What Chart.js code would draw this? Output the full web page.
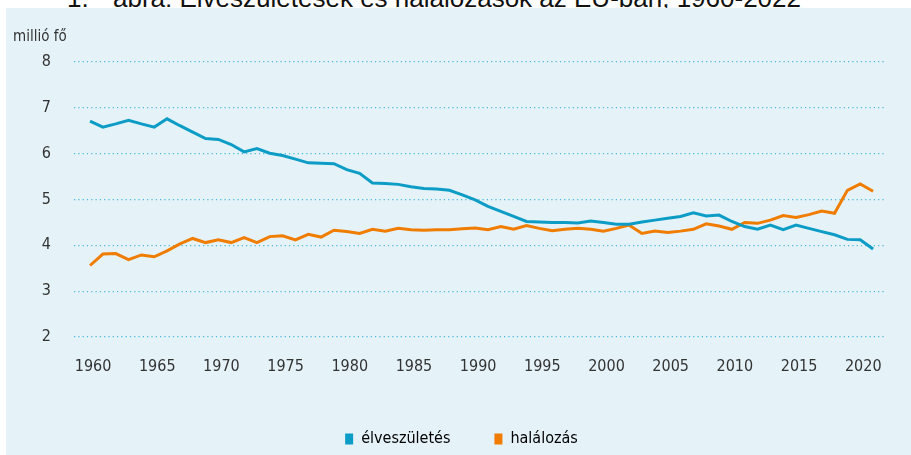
<!DOCTYPE html>
<html>
<head>
<meta charset="utf-8">
<script src="https://cdn.jsdelivr.net/npm/chart.js@4.4.1/dist/chart.umd.min.js"></script>
<style>
  html, body { margin: 0; padding: 0; background: #ffffff; width: 911px; height: 455px; overflow: hidden; }
  .title { position: absolute; top: -17px; font: 26px 'Liberation Sans', Arial, sans-serif; color: #111; white-space: pre; z-index: 0; }
  #panel { position: absolute; left: 6px; top: 8px; width: 905px; height: 447px; background: #E5F3F8; z-index: 1; }
  #unit { position: absolute; left: 13px; top: 27px; font: 15px 'Liberation Sans Narrow', 'DejaVu Sans Condensed', sans-serif; color: #333; z-index: 3; }
  #wrap { position: absolute; left: 0; top: 0; width: 911px; height: 457px; z-index: 2; }
</style>
</head>
<body>
<div class="title" style="left:67px">1.</div>
<div class="title" style="left:113px">ábra: Élveszületések és halálozások az EU-ban, 1960-2022</div>
<div id="panel"></div>
<div id="unit">millió fő</div>
<div id="wrap"><canvas id="c" width="911" height="457"></canvas></div>
<script>
const years = [1960,1961,1962,1963,1964,1965,1966,1967,1968,1969,
  1970,1971,1972,1973,1974,1975,1976,1977,1978,1979,
  1980,1981,1982,1983,1984,1985,1986,1987,1988,1989,
  1990,1991,1992,1993,1994,1995,1996,1997,1998,1999,
  2000,2001,2002,2003,2004,2005,2006,2007,2008,2009,
  2010,2011,2012,2013,2014,2015,2016,2017,2018,2019,
  2020,2021];
const births = [6.71,6.58,6.65,6.73,6.65,6.58,6.76,6.61,6.47,6.33,
  6.31,6.20,6.04,6.11,6.01,5.96,5.88,5.80,5.79,5.78,
  5.65,5.57,5.36,5.35,5.33,5.28,5.24,5.23,5.20,5.10,
  4.99,4.85,4.74,4.63,4.52,4.51,4.50,4.50,4.49,4.53,
  4.50,4.46,4.46,4.51,4.55,4.59,4.63,4.71,4.64,4.66,
  4.52,4.41,4.35,4.44,4.34,4.44,4.37,4.30,4.23,4.13,
  4.12,3.92];
const deaths = [3.56,3.81,3.82,3.69,3.79,3.75,3.88,4.03,4.15,4.06,
  4.12,4.06,4.17,4.06,4.19,4.21,4.12,4.24,4.18,4.33,
  4.30,4.26,4.35,4.31,4.37,4.34,4.33,4.34,4.34,4.36,
  4.38,4.34,4.41,4.35,4.43,4.37,4.32,4.35,4.37,4.35,
  4.31,4.37,4.44,4.26,4.31,4.28,4.31,4.35,4.47,4.42,
  4.35,4.50,4.48,4.55,4.65,4.61,4.67,4.75,4.70,5.20,
  5.34,5.18];
const xTickYears = [1960,1965,1970,1975,1980,1985,1990,1995,2000,2005,2010,2015,2020];
const yTicks = [2,3,4,5,6,7,8];
const seriesNames = ['élveszületés','halálozás'];

const FONT = "'Liberation Sans Narrow', 'DejaVu Sans Condensed', sans-serif";
const BLUE = '#0C9CC6';
const ORANGE = '#F07C00';

new Chart(document.getElementById('c'), {
  type: 'line',
  data: {
    datasets: [
      { label: seriesNames[0], data: years.map((y, i) => ({x: y, y: births[i]})),
        borderColor: BLUE, backgroundColor: BLUE, borderWidth: 3, pointRadius: 0, tension: 0 },
      { label: seriesNames[1], data: years.map((y, i) => ({x: y, y: deaths[i]})),
        borderColor: ORANGE, backgroundColor: ORANGE, borderWidth: 3, pointRadius: 0, tension: 0 }
    ]
  },
  options: {
    responsive: false,
    animation: false,
    layout: { padding: { left: 38, right: 26, top: 62, bottom: 0 } },
    plugins: {
      tooltip: { enabled: false },
      legend: {
        position: 'bottom',
        labels: {
          boxWidth: 8, boxHeight: 11, padding: 44,
          color: '#333', font: { family: FONT, size: 16 },
          generateLabels: (chart) => chart.data.datasets.map((d, i) => ({
            text: d.label, fillStyle: d.borderColor, strokeStyle: d.borderColor, lineWidth: 0, datasetIndex: i
          }))
        }
      }
    },
    scales: {
      x: {
        type: 'linear', min: 1958.75, max: 2021.93,
        afterBuildTicks: (s) => { s.ticks = xTickYears.map(v => ({value: v})); },
        afterFit: (s) => { s.height = 50; },
        ticks: { color: '#333', font: { family: FONT, size: 16 }, padding: 20, labelOffset: 3, maxRotation: 0, autoSkip: false,
                 callback: (v) => String(v) },
        grid: { display: false, drawTicks: false },
        border: { display: false }
      },
      y: {
        min: 2, max: 8,
        afterBuildTicks: (s) => { s.ticks = yTicks.map(v => ({value: v})); },
        afterFit: (s) => { s.width = 36; },
        ticks: { color: '#333', font: { family: FONT, size: 16 }, padding: 23 },
        grid: { color: '#45B6DC', lineWidth: 1.2, drawTicks: false },
        border: { display: false, dash: [1.2, 3.1] }
      }
    }
  }
});
</script>
</body>
</html>
